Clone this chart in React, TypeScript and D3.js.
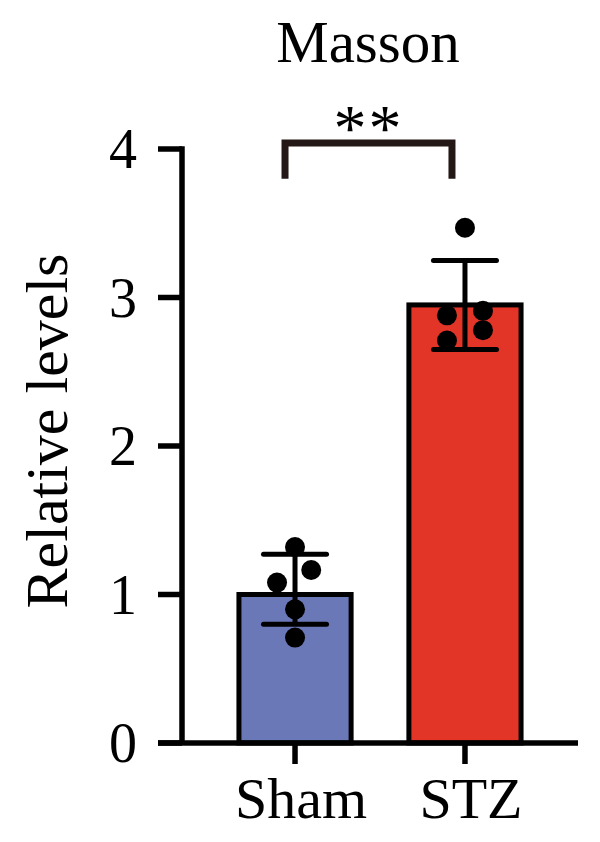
import React from "react";
import * as d3 from "d3";

// ─── Data ─────────────────────────────────────────────────────────────────────
const groups = ["Sham", "STZ"];
const barHeights = [1.0, 2.95];
const sds = [0.236, 0.3];
const shamPoints = [1.32, 1.165, 1.08, 0.9, 0.71];
const shamJitter = [0, 0.9, -1, 0, 0];
const stzPoints = [3.47, 2.91, 2.88, 2.78, 2.71];
const stzJitter = [0, 1, -1, 1, -1];
const yTicks = [0, 1, 2, 3, 4];
const title = "Masson";
const yLabel = "Relative levels";
const sigLabel = "**";

// ─── Design tokens ────────────────────────────────────────────────────────────
const W = 600;
const H = 842;
const FONT = "'Liberation Serif', 'Times New Roman', serif";
const BAR_FILLS = ["#6b78b8", "#e23427"];
const INK = "#000";
const BRACKET = "#231815";
const AXIS_W = 5.5;

export default function App() {
  const y = d3.scaleLinear().domain([0, 4]).range([743, 149]);
  const x = d3.scalePoint<string>().domain(groups).range([182, 578]).padding(0.665);
  const step = x.step();
  const barW = step * 0.66;
  const capW = 63;
  const jitterPx = 18;

  const pointSets = [
    shamPoints.map((v, i) => ({ v, j: shamJitter[i] })),
    stzPoints.map((v, i) => ({ v, j: stzJitter[i] })),
  ];
  // error bars sit on the mean of the dots
  const dotMeans = [d3.mean(shamPoints) as number, d3.mean(stzPoints) as number];

  const x0 = x.range()[0];
  const x1 = x.range()[1];
  const bL = (x(groups[0]) as number) - 10;
  const bR = (x(groups[1]) as number) - 13;
  const bTop = y(4.04);
  const bBot = y(3.8);

  return (
    <svg
      width={W}
      height={H}
      style={{ position: "absolute", left: 0, top: 0, background: "#fff", fontFamily: FONT }}
    >
      {/* title */}
      <text x={368} y={62} textAnchor="middle" fontSize={59} fill={INK}>
        {title}
      </text>

      {/* significance bracket */}
      <path
        d={`M${bL},${bBot}V${bTop}H${bR}V${bBot}`}
        fill="none"
        stroke={BRACKET}
        strokeWidth={7}
      />
      <text
        x={(bL + bR) / 2}
        y={150}
        textAnchor="middle"
        fontSize={66}
        letterSpacing={2}
        fill={INK}
      >
        {sigLabel}
      </text>

      {/* bars */}
      {groups.map((g, i) => (
        <rect
          key={g}
          x={(x(g) as number) - barW / 2}
          y={y(barHeights[i])}
          width={barW}
          height={y(0) - y(barHeights[i])}
          fill={BAR_FILLS[i]}
          stroke={INK}
          strokeWidth={5}
        />
      ))}

      {/* points */}
      {groups.map((g, i) =>
        pointSets[i].map((p, k) => (
          <circle
            key={`${g}-${k}`}
            cx={(x(g) as number) + p.j * jitterPx}
            cy={y(p.v)}
            r={10}
            fill={INK}
          />
        )),
      )}

      {/* error bars */}
      {groups.map((g, i) => {
        const cx = x(g) as number;
        const hi = y(dotMeans[i] + sds[i]);
        const lo = y(dotMeans[i] - sds[i]);
        return (
          <g key={`err-${g}`} stroke={INK} strokeWidth={5}>
            <line x1={cx} x2={cx} y1={hi} y2={lo} />
            <line x1={cx - capW / 2} x2={cx + capW / 2} y1={hi} y2={hi} strokeLinecap="round" />
            <line x1={cx - capW / 2} x2={cx + capW / 2} y1={lo} y2={lo} strokeLinecap="round" />
          </g>
        );
      })}

      {/* y axis */}
      <g stroke={INK} strokeWidth={AXIS_W}>
        <line x1={x0} x2={x0} y1={y(4) - AXIS_W / 2} y2={y(0)} />
        {yTicks.map((t) => (
          <line key={t} x1={x0 - 24} x2={x0} y1={y(t)} y2={y(t)} />
        ))}
      </g>
      {yTicks.map((t) => (
        <text
          key={`yl-${t}`}
          x={137}
          y={y(t) + 0.34 * 56}
          textAnchor="end"
          fontSize={56}
          fill={INK}
        >
          {t}
        </text>
      ))}
      <text
        transform={`translate(67,431) rotate(-90)`}
        textAnchor="middle"
        fontSize={60}
        fill={INK}
      >
        {yLabel}
      </text>

      {/* x axis */}
      <g stroke={INK} strokeWidth={AXIS_W}>
        <line x1={x0 - 24} x2={x1} y1={y(0)} y2={y(0)} />
        {groups.map((g) => (
          <line key={g} x1={x(g) as number} x2={x(g) as number} y1={y(0)} y2={y(0) + 21} />
        ))}
      </g>
      {groups.map((g) => (
        <text
          key={`xl-${g}`}
          x={(x(g) as number) + 6}
          y={818}
          textAnchor="middle"
          fontSize={58}
          fill={INK}
        >
          {g}
        </text>
      ))}
    </svg>
  );
}
